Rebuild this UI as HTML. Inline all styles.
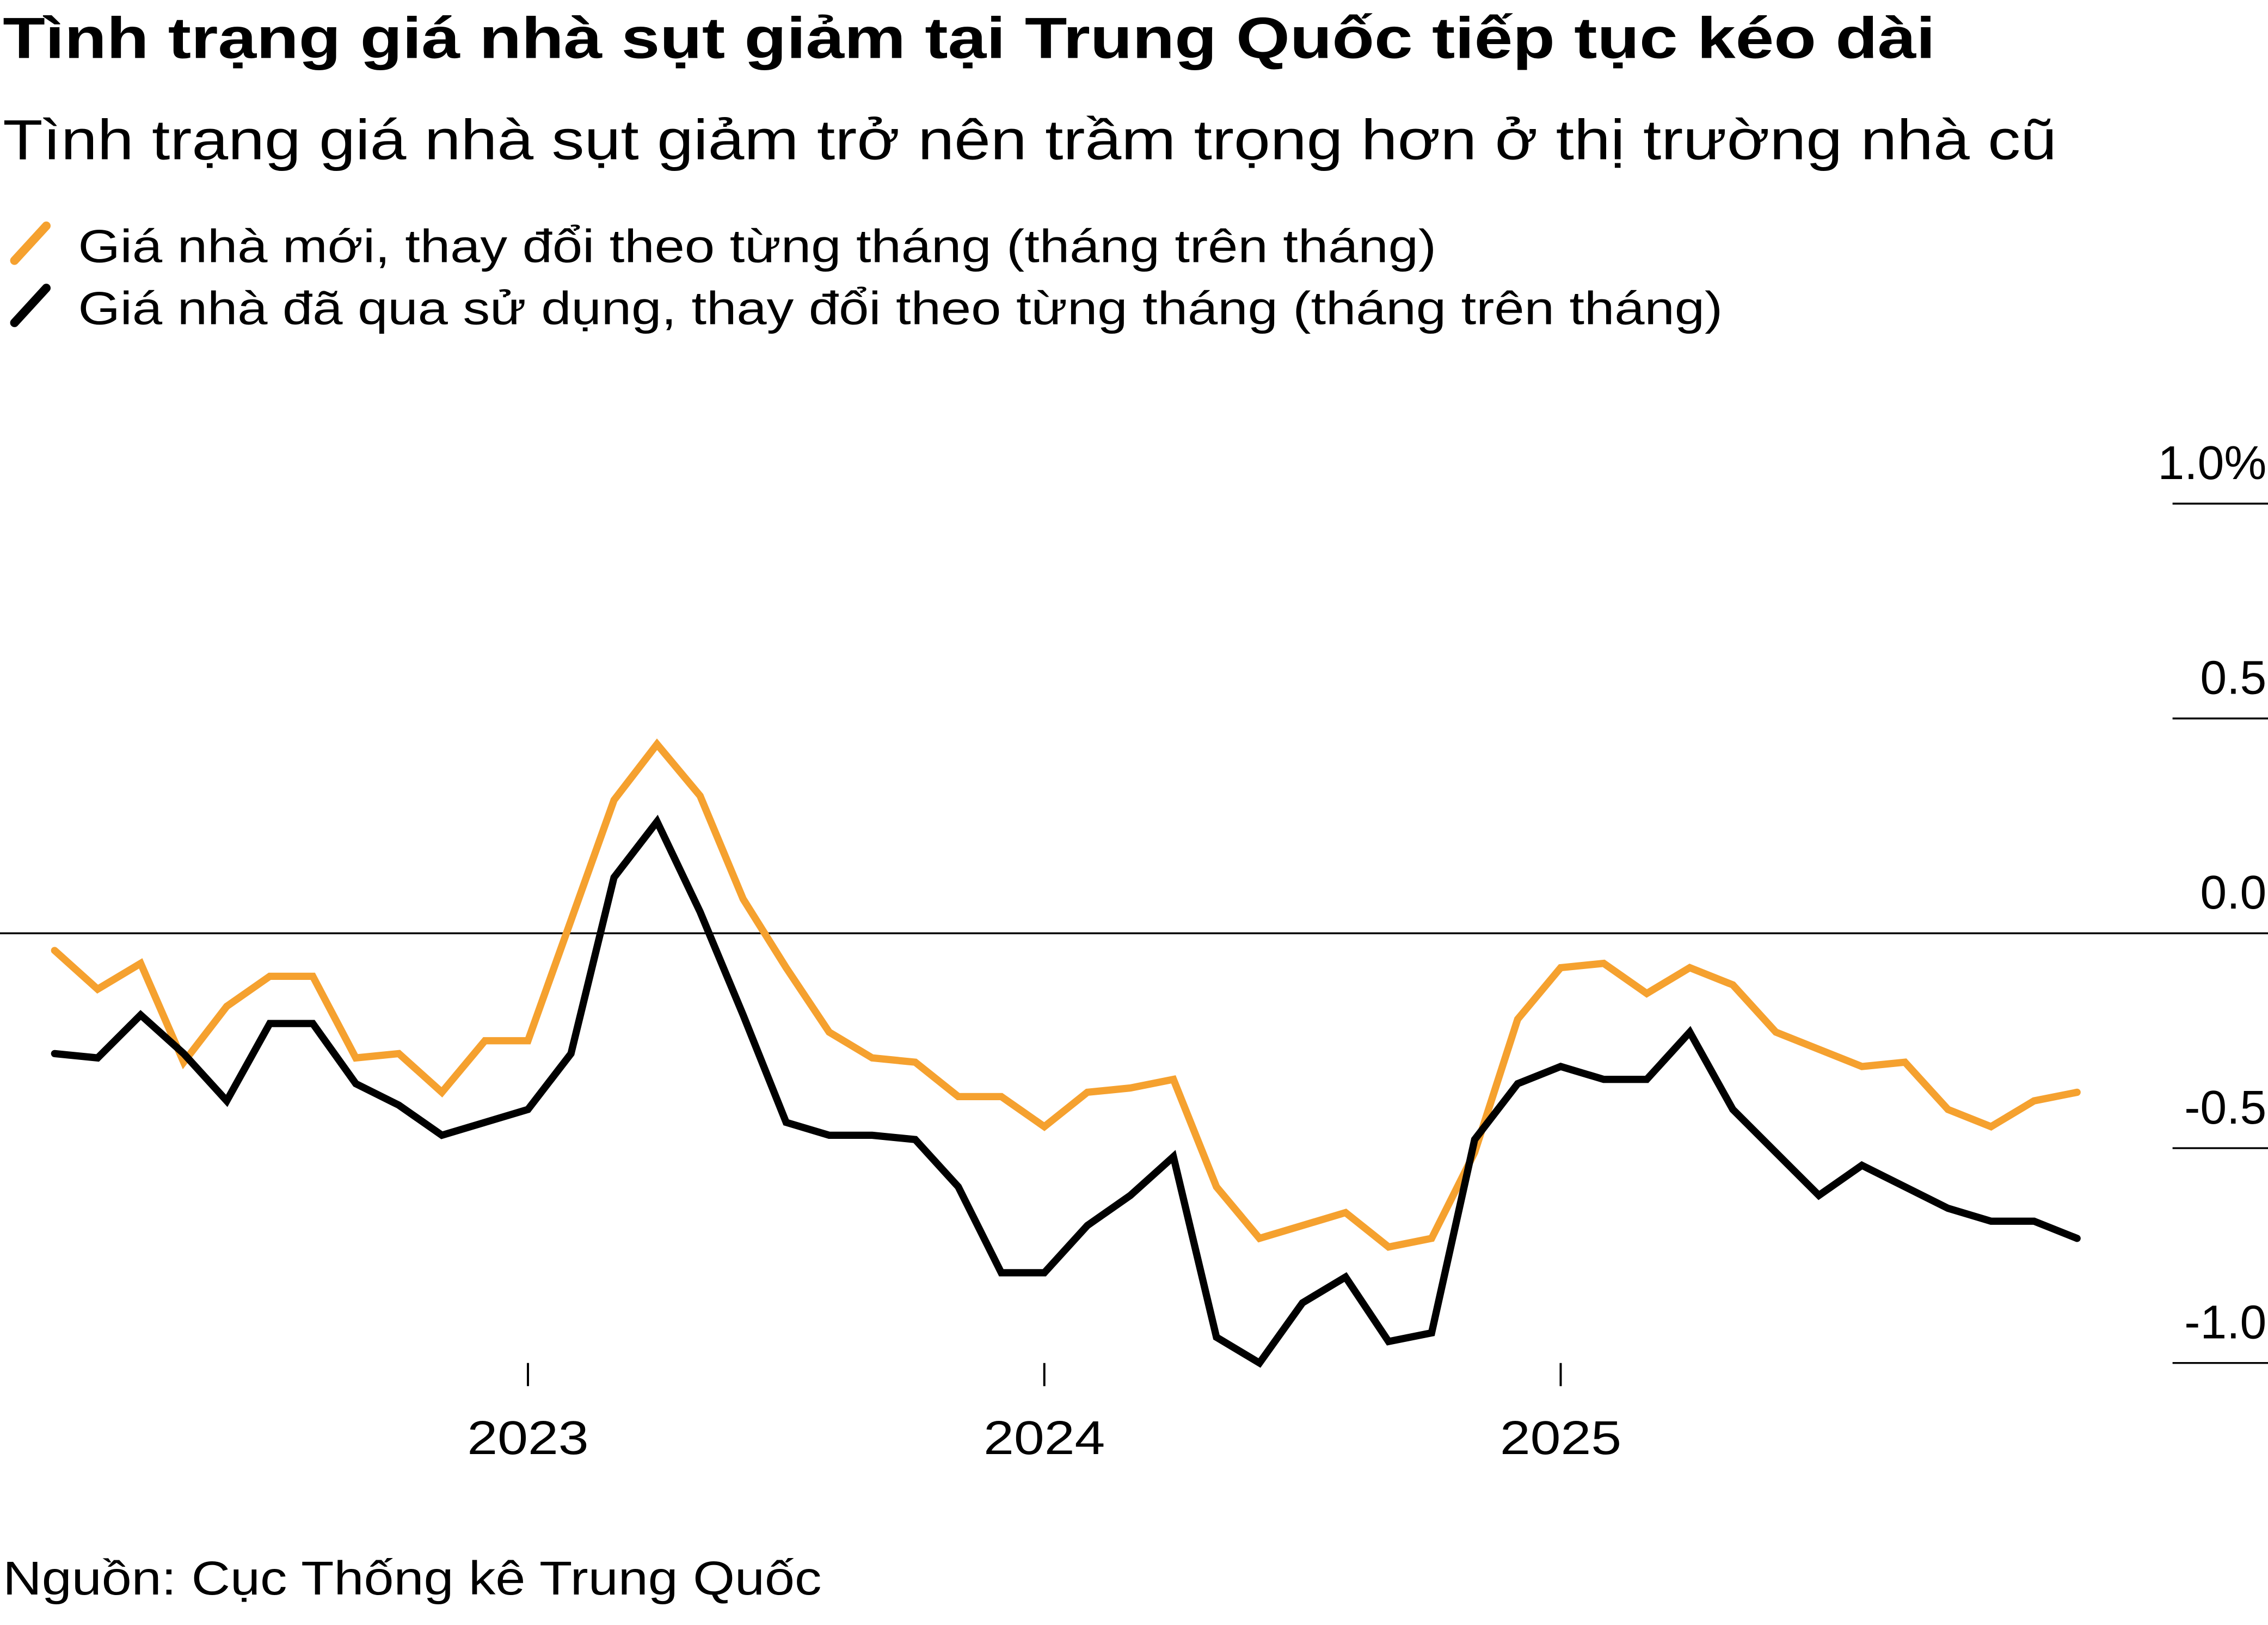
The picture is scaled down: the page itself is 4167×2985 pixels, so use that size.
<!DOCTYPE html>
<html><head><meta charset="utf-8">
<style>
html,body{margin:0;padding:0;background:#fff;}
svg{display:block;}
text{font-family:"Liberation Sans","DejaVu Sans",sans-serif;fill:#000;}
</style></head>
<body>
<svg id="chart" width="4167" height="2985" viewBox="0 0 1568 1123" xmlns="http://www.w3.org/2000/svg">
<text x="2" y="40" font-size="40" font-weight="bold" textLength="1336" lengthAdjust="spacingAndGlyphs">Tình trạng giá nhà sụt giảm tại Trung Quốc tiếp tục kéo dài</text>
<text x="2" y="110" font-size="39" textLength="1420" lengthAdjust="spacingAndGlyphs">Tình trạng giá nhà sụt giảm trở nên trầm trọng hơn ở thị trường nhà cũ</text>
<g>
<line x1="10" y1="180" x2="32" y2="156" stroke="#f5a12f" stroke-width="6" stroke-linecap="round"/>
<text x="54" y="181" font-size="32" textLength="939" lengthAdjust="spacingAndGlyphs">Giá nhà mới, thay đổi theo từng tháng (tháng trên tháng)</text>
</g>
<g>
<line x1="10" y1="223" x2="32" y2="199" stroke="#000" stroke-width="6" stroke-linecap="round"/>
<text x="54" y="224" font-size="32" textLength="1137" lengthAdjust="spacingAndGlyphs">Giá nhà đã qua sử dụng, thay đổi theo từng tháng (tháng trên tháng)</text>
</g>
<g id="yaxis"></g>
<g id="xaxis"></g>
<g id="series"></g>
<text x="2" y="1102" font-size="33" textLength="566" lengthAdjust="spacingAndGlyphs">Nguồn: Cục Thống kê Trung Quốc</text>
</svg>
<script>
const yTicks = [1.0, 0.5, 0.0, -0.5, -1.0];
const yTickLabels = ["1.0%", "0.5", "0.0", "-0.5", "-1.0"];
const xTickYears = ["2023", "2024", "2025"];
const startMonthIndex = -11; // months relative to Jan 2023
const newHome = [-0.04,-0.13,-0.07,-0.30,-0.17,-0.10,-0.10,-0.29,-0.28,-0.37,-0.25,-0.25,0.03,0.31,0.44,0.32,0.08,-0.08,-0.23,-0.29,-0.30,-0.38,-0.38,-0.45,-0.37,-0.36,-0.34,-0.59,-0.71,-0.68,-0.65,-0.73,-0.71,-0.51,-0.20,-0.08,-0.07,-0.14,-0.08,-0.12,-0.23,-0.27,-0.31,-0.30,-0.41,-0.45,-0.39,-0.37];
const usedHome = [-0.28,-0.29,-0.19,-0.28,-0.39,-0.21,-0.21,-0.35,-0.40,-0.47,-0.44,-0.41,-0.28,0.13,0.26,0.05,-0.19,-0.44,-0.47,-0.47,-0.48,-0.59,-0.79,-0.79,-0.68,-0.61,-0.52,-0.94,-1.00,-0.86,-0.80,-0.95,-0.93,-0.48,-0.35,-0.31,-0.34,-0.34,-0.23,-0.41,-0.51,-0.61,-0.54,-0.59,-0.64,-0.67,-0.67,-0.71];

const NS = "http://www.w3.org/2000/svg";
const y = v => 645 - v * 297;
const x = m => 365 + m * 29.75;
function mk(tag, attrs, parent){const e=document.createElementNS(NS,tag);for(const k in attrs)e.setAttribute(k,attrs[k]);parent.appendChild(e);return e;}

const ya = document.getElementById('yaxis');
yTicks.forEach((v,i)=>{
  if (v === 0) {
    const z = mk('line',{x1:0,x2:1568,y1:y(v),y2:y(v),stroke:'#000','stroke-width':1.3},ya);
    
    
  } else {
    const g = mk('line',{x1:1502,x2:1568,y1:y(v),y2:y(v),stroke:'#000','stroke-width':1.3},ya);
    
    
  }
  const t = mk('text',{x:1567,y:y(v)-17,'text-anchor':'end','font-size':33},ya);
  t.textContent = yTickLabels[i];
  
  
});

const xa = document.getElementById('xaxis');
xTickYears.forEach((yr,i)=>{
  const m = i*12;
  const l = mk('line',{x1:x(m),x2:x(m),y1:942,y2:958,stroke:'#000','stroke-width':1.5},xa);
  
  
  const t = mk('text',{x:x(m),y:1005,'text-anchor':'middle','font-size':33,textLength:84,lengthAdjust:'spacingAndGlyphs'},xa);
  t.textContent = yr;
  
  
});

const sg = document.getElementById('series');
function line(data,color,name){
  const pts = data.map((v,i)=>x(startMonthIndex+i).toFixed(2)+','+y(v).toFixed(2)).join(' ');
  const p = mk('polyline',{points:pts,fill:'none',stroke:color,'stroke-width':5,'stroke-linejoin':'miter','stroke-linecap':'round'},sg);
  
  
}
line(newHome,'#f5a12f','line-new-home-prices');
line(usedHome,'#000000','line-used-home-prices');
</script>
</body></html>
